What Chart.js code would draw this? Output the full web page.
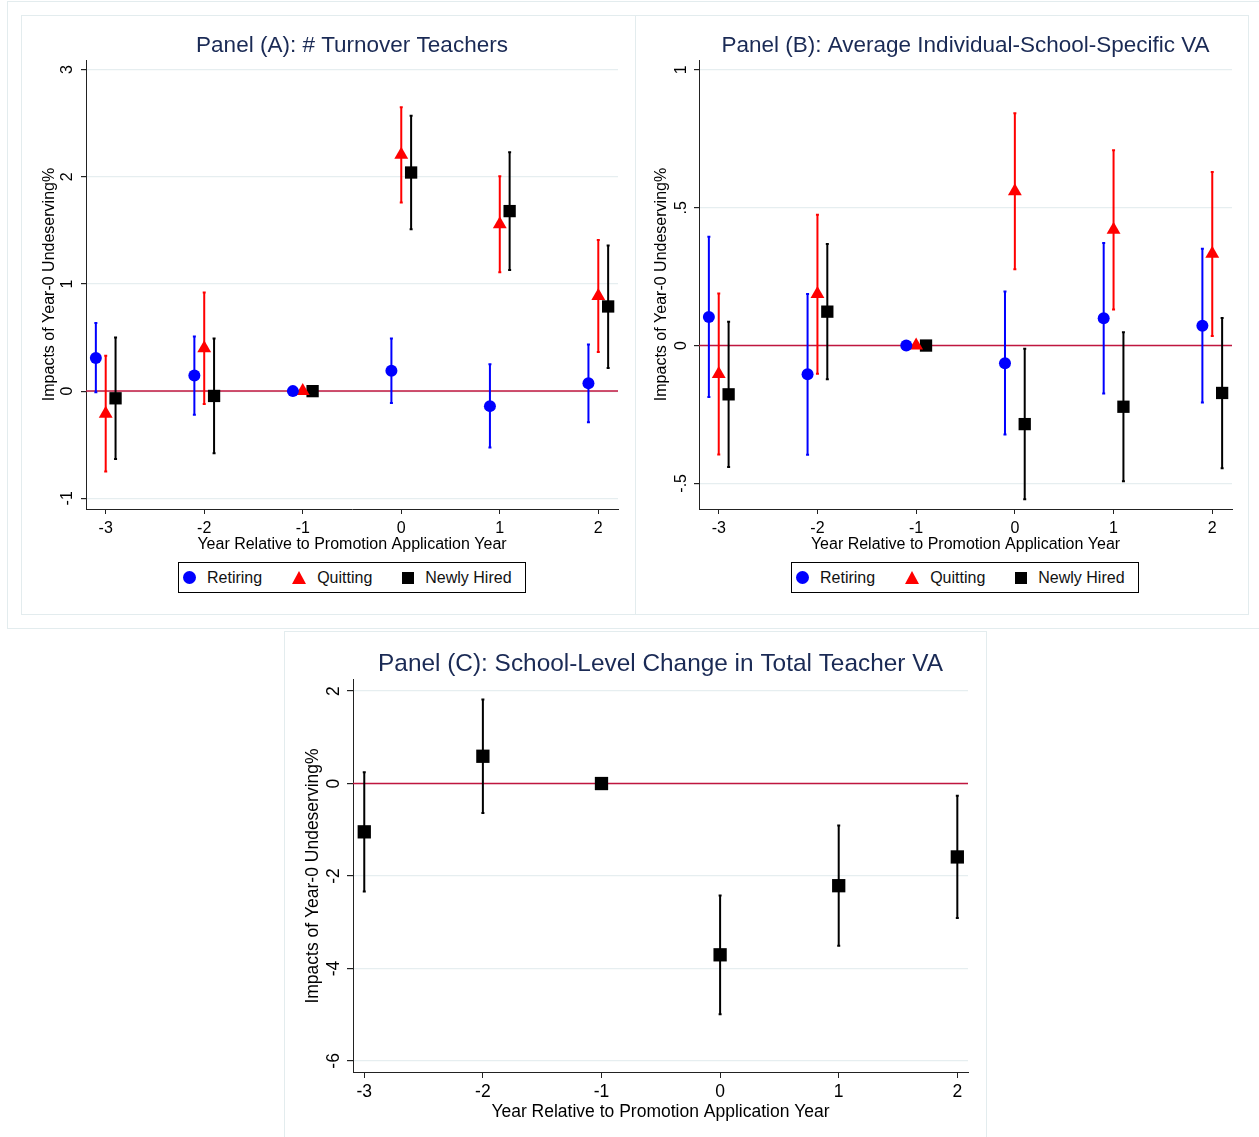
<!DOCTYPE html>
<html>
<head>
<meta charset="utf-8">
<script src="https://cdn.jsdelivr.net/npm/chart.js@4.4.0/dist/chart.umd.min.js"></script>
<style>
  body { margin: 0; background: #fff; width: 1259px; height: 1137px; position: relative; overflow: hidden;
         font-family: 'Liberation Sans', Arial, sans-serif; }
  .frame { position: absolute; border: 1px solid #e3ecee; box-sizing: border-box; }
  canvas { position: absolute; }
  .legend { position: absolute; height: 31px; border: 1px solid #000; box-sizing: border-box; display: flex;
            align-items: center; padding-left: 4px; font-size: 16px; color: #111; background: #fff; }
  .legend .item { display: flex; align-items: center; margin-right: 30px; }
  .legend .item:last-child { margin-right: 0; }
  .legend .mk { margin-right: 11px; }
</style>
</head>
<body>
<div class="frame" style="left:7px;top:1px;width:1270px;height:628px"></div>
<div class="frame" style="left:21px;top:15px;width:615px;height:600px"></div>
<div class="frame" style="left:635px;top:15px;width:614px;height:600px"></div>
<div class="frame" style="left:284px;top:631px;width:703px;height:520px"></div>

<canvas id="chartA" width="612" height="540" style="left:22px;top:16px"></canvas>
<canvas id="chartB" width="612" height="540" style="left:636px;top:16px"></canvas>
<canvas id="chartC" width="700" height="505" style="left:285px;top:632px"></canvas>

<div class="legend" id="legendA" style="left:178px;top:562px"></div>
<div class="legend" id="legendB" style="left:791px;top:562px"></div>

<script>
// ---- data ----
const years = [-3, -2, -1, 0, 1, 2];
const seriesNames = ['Retiring', 'Quitting', 'Newly Hired'];
const seriesColors = ['#0000ff', '#ff0000', '#000000'];
const seriesShapes = ['circle', 'triangle', 'rect'];
const seriesOffsets = [-0.1, 0, 0.1];

// Panel A: # Turnover Teachers
const retiringA   = [0.31, 0.145, 0, 0.19, -0.14, 0.073];
const retiringALo = [-0.01, -0.22, 0, -0.11, -0.527, -0.29];
const retiringAHi = [0.635, 0.51, 0, 0.49, 0.25, 0.435];
const quittingA   = [-0.21, 0.40, 0, 2.205, 1.558, 0.887];
const quittingALo = [-0.75, -0.12, 0, 1.76, 1.11, 0.364];
const quittingAHi = [0.33, 0.92, 0, 2.65, 2.006, 1.41];
const hiredA      = [-0.067, -0.045, 0, 2.04, 1.68, 0.79];
const hiredALo    = [-0.633, -0.58, 0, 1.51, 1.13, 0.215];
const hiredAHi    = [0.50, 0.49, 0, 2.57, 2.23, 1.36];
const yTicksA = [-1, 0, 1, 2, 3];
const yLabelsA = ['-1', '0', '1', '2', '3'];

// Panel B: Average Individual-School-Specific VA
const retiringB   = [0.104, -0.104, 0, -0.064, 0.099, 0.072];
const retiringBLo = [-0.187, -0.396, 0, -0.323, -0.174, -0.207];
const retiringBHi = [0.395, 0.187, 0, 0.196, 0.372, 0.351];
const quittingB   = [-0.103, 0.187, 0, 0.56, 0.42, 0.333];
const quittingBLo = [-0.395, -0.102, 0, 0.277, 0.131, 0.035];
const quittingBHi = [0.189, 0.475, 0, 0.843, 0.709, 0.63];
const hiredB      = [-0.177, 0.123, 0, -0.285, -0.222, -0.172];
const hiredBLo    = [-0.441, -0.122, 0, -0.558, -0.492, -0.445];
const hiredBHi    = [0.086, 0.368, 0, -0.012, 0.048, 0.10];
const yTicksB = [-0.5, 0, 0.5, 1];
const yLabelsB = ['-.5', '0', '.5', '1'];

// Panel C: School-Level Change in Total Teacher VA
const hiredC   = [-1.045, 0.59, 0, -3.705, -2.21, -1.588];
const hiredCLo = [-2.335, -0.64, 0, -4.99, -3.51, -2.91];
const hiredCHi = [0.246, 1.82, 0, -2.42, -0.91, -0.266];
const yTicksC = [-6, -4, -2, 0, 2];
const yLabelsC = ['-6', '-4', '-2', '0', '2'];

const xTitle = 'Year Relative to Promotion Application Year';
const yTitle = 'Impacts of Year-0 Undeserving%';

const fontFamily = "'Liberation Sans', Arial, sans-serif";
const titleColor = '#1a2a55';
const axisColor = '#222222';
const gridColor = '#e6eef0';
const zeroColor = '#c0163f';

// ---- helpers ----
function makePoints(vals, lo, hi, off) {
    return years.map((yr, i) => ({ x: yr + off, y: vals[i], lo: lo[i], hi: hi[i] }));
}

function makeDataset(k, vals, lo, hi, off, radius) {
    return {
        label: seriesNames[k],
        data: makePoints(vals, lo, hi, off),
        pointStyle: seriesShapes[k],
        pointRadius: radius,
        pointBackgroundColor: seriesColors[k],
        pointBorderWidth: 0,
        backgroundColor: seriesColors[k],
        borderColor: seriesColors[k]
    };
}

// zero line + capped spikes, drawn under the markers
const errorBars = {
    id: 'errorBars',
    beforeDatasetsDraw(chart) {
        const { ctx, chartArea, scales: { x, y } } = chart;
        const y0 = y.getPixelForValue(0);
        ctx.save();
        ctx.strokeStyle = zeroColor;
        ctx.lineWidth = 1.5;
        ctx.beginPath();
        ctx.moveTo(chartArea.left, y0);
        ctx.lineTo(chartArea.right, y0);
        ctx.stroke();
        chart.data.datasets.forEach(ds => {
            ctx.strokeStyle = ds.borderColor;
            ctx.lineWidth = 2;
            ds.data.forEach(p => {
                if (p.lo === p.hi) return;
                const px = x.getPixelForValue(p.x);
                const top = y.getPixelForValue(p.hi);
                const bot = y.getPixelForValue(p.lo);
                ctx.beginPath();
                ctx.moveTo(px, top); ctx.lineTo(px, bot);
                ctx.moveTo(px - 1.5, top); ctx.lineTo(px + 1.5, top);
                ctx.moveTo(px - 1.5, bot); ctx.lineTo(px + 1.5, bot);
                ctx.stroke();
            });
        });
        ctx.restore();
    }
};

// y tick labels turned on their side, Stata style
const yTickText = {
    id: 'yTickText',
    afterDraw(chart, args, opts) {
        const s = chart.scales.y;
        const ctx = chart.ctx;
        ctx.save();
        ctx.font = opts.size + 'px ' + fontFamily;
        ctx.fillStyle = '#000';
        ctx.textAlign = 'center';
        ctx.textBaseline = 'middle';
        opts.values.forEach((v, i) => {
            ctx.save();
            ctx.translate(s.right - opts.gap, s.getPixelForValue(v));
            ctx.rotate(-Math.PI / 2);
            ctx.fillText(opts.labels[i], 0, 0);
            ctx.restore();
        });
        ctx.restore();
    }
};

function makeChart(id, cfg) {
    return new Chart(document.getElementById(id), {
        type: 'scatter',
        data: { datasets: cfg.datasets },
        options: {
            responsive: false,
            animation: false,
            layout: { padding: { left: 0, right: cfg.padRight, top: 0, bottom: 0 } },
            plugins: {
                legend: { display: false },
                tooltip: { enabled: false },
                title: {
                    display: true,
                    fullSize: false,
                    text: cfg.title,
                    color: titleColor,
                    font: { family: fontFamily, size: cfg.titleSize, weight: 'normal' },
                    padding: { top: cfg.titleTop, bottom: cfg.titleBottom }
                },
                yTickText: { values: cfg.yTicks, labels: cfg.yLabels, size: cfg.fontSize, gap: cfg.labelGap }
            },
            scales: {
                x: {
                    type: 'linear',
                    min: cfg.xMin,
                    max: cfg.xMax,
                    afterBuildTicks: s => { s.ticks = years.map(v => ({ value: v })); },
                    afterFit: s => { s.height = cfg.xHeight; },
                    ticks: { color: '#000', font: { family: fontFamily, size: cfg.fontSize }, padding: cfg.xTickPad,
                             maxRotation: 0, callback: v => String(v) },
                    grid: { drawOnChartArea: false, tickColor: axisColor, tickLength: cfg.tickLen },
                    border: { color: axisColor, width: 1 },
                    title: { display: true, text: xTitle, color: '#000',
                             font: { family: fontFamily, size: cfg.fontSize },
                             padding: { top: 0, bottom: cfg.xTitleBottom } }
                },
                y: {
                    min: cfg.yMin,
                    max: cfg.yMax,
                    afterBuildTicks: s => { s.ticks = cfg.yTicks.map(v => ({ value: v })); },
                    afterFit: s => { s.width = cfg.yWidth; },
                    ticks: { display: false },
                    grid: { color: gridColor, lineWidth: 1.2, tickColor: axisColor, tickLength: cfg.tickLen },
                    border: { color: axisColor, width: 1 },
                    title: { display: true, text: yTitle, color: '#000',
                             font: { family: fontFamily, size: cfg.fontSize },
                             padding: { top: cfg.yTitleTop, bottom: 0 } }
                }
            }
        },
        plugins: [errorBars, yTickText]
    });
}

function buildLegend(id) {
    const box = document.getElementById(id);
    const marks = [
        '<span class="mk" style="width:13px;height:13px;border-radius:50%;background:' + seriesColors[0] + '"></span>',
        '<span class="mk" style="width:0;height:0;border-left:7.5px solid transparent;border-right:7.5px solid transparent;border-bottom:13px solid ' + seriesColors[1] + '"></span>',
        '<span class="mk" style="width:12px;height:12px;background:' + seriesColors[2] + '"></span>'
    ];
    box.innerHTML = seriesNames.map((n, k) =>
        '<span class="item">' + marks[k] + '<span>' + n + '</span></span>').join('');
    box.style.width = (box.scrollWidth + 15) + 'px';
}

// ---- panels ----
const commonTop = {
    padRight: 16, titleSize: 22.5, titleTop: 16.5, titleBottom: 0.5,
    fontSize: 16, xHeight: 47, xTickPad: 5, xTitleBottom: 1.6, tickLen: 5,
    xMin: -3.2, xMax: 2.2
};

makeChart('chartA', Object.assign({}, commonTop, {
    title: 'Panel (A): # Turnover Teachers',
    datasets: [
        makeDataset(0, retiringA, retiringALo, retiringAHi, seriesOffsets[0], 6),
        makeDataset(1, quittingA, quittingALo, quittingAHi, seriesOffsets[1], 8),
        makeDataset(2, hiredA, hiredALo, hiredAHi, seriesOffsets[2], 8.7)
    ],
    yMin: -1.1, yMax: 3.09, yTicks: yTicksA, yLabels: yLabelsA,
    yWidth: 64, yTitleTop: 18.4, labelGap: 18
}));

makeChart('chartB', Object.assign({}, commonTop, {
    title: 'Panel (B): Average Individual-School-Specific VA',
    datasets: [
        makeDataset(0, retiringB, retiringBLo, retiringBHi, seriesOffsets[0], 6),
        makeDataset(1, quittingB, quittingBLo, quittingBHi, seriesOffsets[1], 8),
        makeDataset(2, hiredB, hiredBLo, hiredBHi, seriesOffsets[2], 8.7)
    ],
    yMin: -0.593, yMax: 1.036, yTicks: yTicksB, yLabels: yLabelsB,
    yWidth: 63, yTitleTop: 16.4, labelGap: 17
}));

makeChart('chartC', {
    title: 'Panel (C): School-Level Change in Total Teacher VA',
    datasets: [makeDataset(2, hiredC, hiredCLo, hiredCHi, 0, 9.4)],
    padRight: 17, titleSize: 24.4, titleTop: 17.3, titleBottom: 1.4,
    fontSize: 17.5, xHeight: 65, xTickPad: 4, xTitleBottom: 14.5, tickLen: 6,
    xMin: -3.095, xMax: 2.09,
    yMin: -6.24, yMax: 2.24, yTicks: yTicksC, yLabels: yLabelsC,
    yWidth: 68, yTitleTop: 18, labelGap: 19
});

buildLegend('legendA');
buildLegend('legendB');
</script>
</body>
</html>
